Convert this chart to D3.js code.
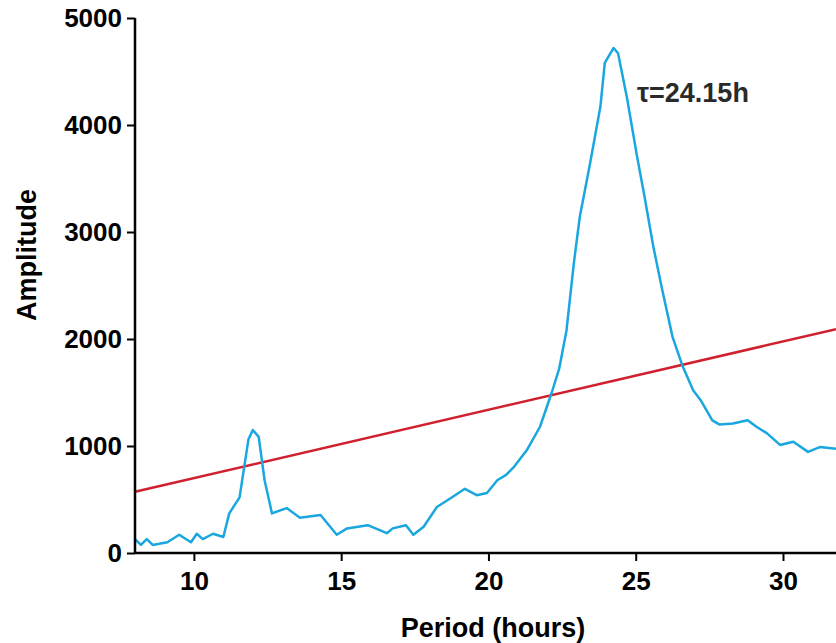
<!DOCTYPE html>
<html><head><meta charset="utf-8">
<script src="https://cdn.jsdelivr.net/npm/d3@7"></script>
<style>body{margin:0;background:#fff}text{font-family:"Liberation Sans",Arial,sans-serif;font-weight:bold}</style>
</head><body><svg id="chart" width="836" height="643"></svg>
<script>
const periods = [8.0,8.2,8.4,8.6,9.1,9.5,9.9,10.1,10.3,10.65,11.0,11.2,11.55,11.85,12.0,12.2,12.4,12.65,13.15,13.6,14.3,14.85,15.2,15.9,16.55,16.75,17.2,17.45,17.8,18.25,18.7,19.2,19.6,19.95,20.3,20.6,20.85,21.3,21.75,22.15,22.4,22.65,22.9,23.1,23.45,23.8,23.95,24.25,24.4,24.7,25.05,25.3,25.6,25.9,26.25,26.6,26.95,27.2,27.6,27.85,28.3,28.8,29.1,29.45,29.9,30.35,30.85,31.25,31.8]
const amplitude = [130,75,130,75,100,170,100,180,130,180,150,370,520,1060,1150,1085,680,370,420,330,355,170,230,260,185,230,260,170,245,430,510,600,540,560,680,730,800,960,1180,1500,1720,2080,2710,3140,3640,4170,4580,4720,4670,4260,3700,3330,2860,2460,2020,1740,1520,1430,1240,1200,1210,1240,1180,1120,1010,1040,945,990,975]
const thresholdPeriods = [8, 31.8]
const thresholdValues = [572, 2092]
const yTicks = [0,1000,2000,3000,4000,5000]
const xTicks = [10,15,20,25,30]

const svg = d3.select("#chart")
const x = d3.scaleLinear().domain([8, 31.8]).range([135, 836])
const y = d3.scaleLinear().domain([0, 5000]).range([553, 18])

const line = d3.line().x(d => x(d[0])).y(d => y(d[1]))

svg.append("path")
    .datum(thresholdPeriods.map((p, i) => [p, thresholdValues[i]]))
    .attr("d", line).attr("fill", "none").attr("stroke", "#d0202e").attr("stroke-width", 2.5)

svg.append("path")
    .datum(periods.map((p, i) => [p, amplitude[i]]))
    .attr("d", line).attr("fill", "none").attr("stroke", "#1aa7e0").attr("stroke-width", 2.5)
    .attr("stroke-linejoin", "round")

const xAxis = svg.append("g").attr("transform", "translate(0,553)")
    .call(d3.axisBottom(x).tickValues(xTicks).tickFormat(d3.format("d")).tickSize(8).tickSizeOuter(0))
const yAxis = svg.append("g").attr("transform", "translate(135,0)")
    .call(d3.axisLeft(y).tickValues(yTicks).tickFormat(d3.format("d")).tickSize(8).tickSizeOuter(0))
;[xAxis, yAxis].forEach(a => {
    a.select(".domain").attr("stroke", "#000").attr("stroke-width", 2.5)
    a.selectAll(".tick line").attr("stroke", "#000").attr("stroke-width", 2)
    a.selectAll("text").style("font-size", "26px").attr("fill", "#000")
})
xAxis.selectAll("text").attr("dy", "1em")
yAxis.selectAll("text").attr("x", -13)
yAxis.select(".domain").attr("d", "M0,553V18")
xAxis.select(".domain").attr("d", "M135,0H836")

svg.append("text").attr("x", 493).attr("y", 637).attr("text-anchor", "middle")
    .style("font-size", "27px").text("Period (hours)")
svg.append("text").attr("transform", "translate(36,255) rotate(-90)").attr("text-anchor", "middle")
    .style("font-size", "27px").text("Amplitude")
svg.append("text").attr("x", 637).attr("y", 102).style("font-size", "27px").attr("fill", "#2a2a2a").text("τ=24.15h")
</script></body></html>
